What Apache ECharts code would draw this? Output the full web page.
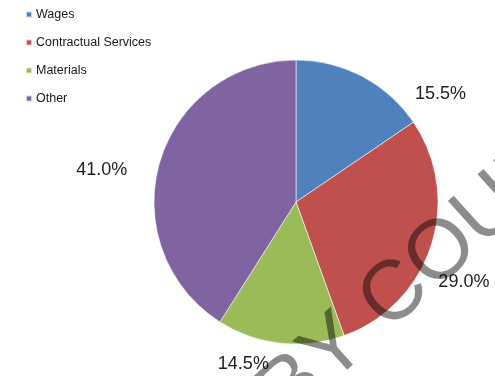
<!DOCTYPE html>
<html>
<head>
<meta charset="utf-8">
<script src="https://cdn.jsdelivr.net/npm/echarts@6/dist/echarts.min.js"></script>
<style>
  html, body { margin: 0; padding: 0; background: #ffffff; }
  #chart { width: 495px; height: 376px; }
</style>
</head>
<body>
<div id="chart"></div>
<script>
// Spending breakdown (percent of total)
const categories = ['Wages', 'Contractual Services', 'Materials', 'Other'];
const shares = [15.5, 29.0, 14.5, 41.0];
const sliceColors = ['#4F81BD', '#C0504D', '#9BBB59', '#8064A2'];

// Small per-slice nudges for the outside value labels (pixels)
const labelNudge = [[41, 30], [-11, 32], [-5, 7], [-14, 12]];

const chart = echarts.init(document.getElementById('chart'), null, { renderer: 'canvas' });

chart.setOption({
  animation: false,
  color: sliceColors,
  legend: {
    orient: 'vertical',
    left: 20,
    top: 3,
    itemWidth: 6,
    itemHeight: 6,
    itemGap: 15,
    icon: 'rect',
    textStyle: {
      fontFamily: '"Liberation Sans", Arial, sans-serif',
      fontSize: 12.5,
      color: '#1a1a1a',
      padding: [0, 0, 0, -1]
    },
    data: categories
  },
  series: [{
    type: 'pie',
    center: [296, 202],
    radius: 142,
    startAngle: 90,
    clockwise: true,
    data: categories.map((name, i) => ({ name, value: shares[i] })),
    itemStyle: { borderColor: 'rgba(255,255,255,0.7)', borderWidth: 0.8 },
    label: {
      show: true,
      position: 'outside',
      overflow: 'none',
      formatter: p => p.value.toFixed(1) + '%',
      fontFamily: '"Liberation Sans", Arial, sans-serif',
      fontSize: 18,
      color: '#222'
    },
    labelLine: { show: false, length: 14, length2: 0 },
    labelLayout: p => ({ dx: labelNudge[p.dataIndex][0], dy: labelNudge[p.dataIndex][1] }),
    emphasis: { disabled: true }
  }],
  graphic: [{
    type: 'text',
    x: 272,
    y: 406,
    rotation: 42 * Math.PI / 180,
    silent: true,
    z: 100,
    style: {
      text: 'BY COURSE HERO',
      fontFamily: '"Liberation Sans", Arial, sans-serif',
      fontWeight: 'normal',
      fontSize: 84,
      fill: 'rgba(0,0,0,0.45)',
      textAlign: 'left',
      textVerticalAlign: 'middle'
    }
  }]
});
</script>
</body>
</html>
